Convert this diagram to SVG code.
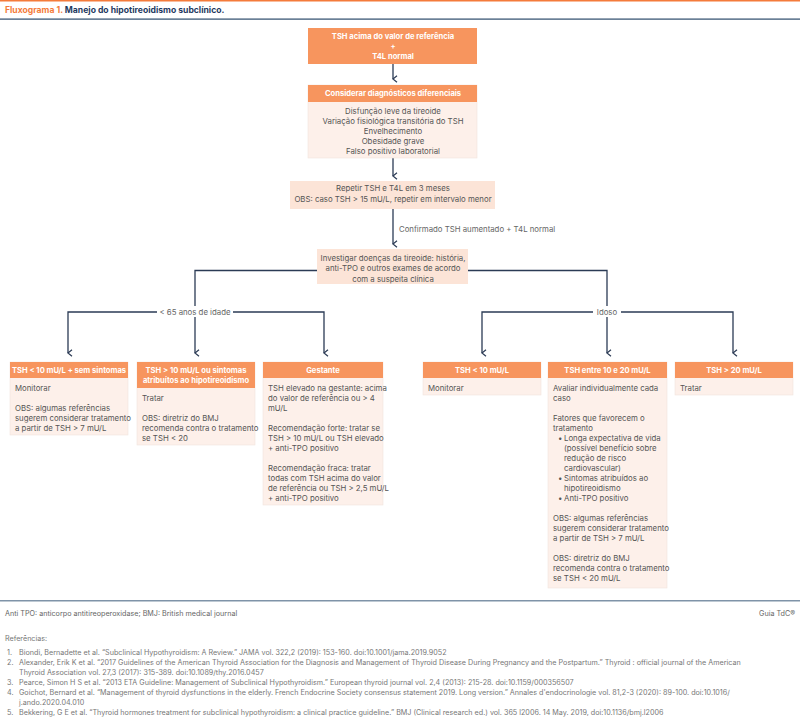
<svg xmlns="http://www.w3.org/2000/svg" width="800" height="723" viewBox="0 0 800 723">
<defs>
<style>
text{font-family:Inter,"Liberation Sans",sans-serif;}
.h{fill:#F7955E;}
.b{fill:#FDF0EA;stroke:#F0E4DE;stroke-width:0.6;}
.p{fill:#FCE4D7;}
.ht{fill:#fff;font-size:7.6px;font-weight:700;text-anchor:middle;}
.t{fill:#555;font-size:7.8px;}
.tc{fill:#555;font-size:7.8px;text-anchor:middle;}
.lbl{fill:#666;font-size:7.8px;}
.c{fill:none;stroke:#2B3B55;stroke-width:1.3;}
.f{fill:#666;font-size:7.2px;}
.r{fill:#777;font-size:7.2px;}
</style>
<marker id="ar" viewBox="0 0 10 10" refX="5" refY="9" markerWidth="8" markerHeight="8" markerUnits="userSpaceOnUse" orient="auto-start-reverse">
<path d="M1,4 L5,9 L9,4" fill="none" stroke="#2B3B55" stroke-width="1.5"/>
</marker>
</defs>
<rect width="800" height="723" fill="#fff"/>
<rect x="0" y="0" width="800" height="1.5" fill="#F47B3B"/>
<text x="5" y="13" font-size="8.6px" font-weight="700"><tspan fill="#F47B3B" font-weight="700">Fluxograma 1.</tspan><tspan fill="#1F3A5F"> Manejo do hipotireoidismo subclínico.</tspan></text>
<rect x="0" y="18.5" width="800" height="1.2" fill="#2C4A6B"/>

<g id="connectors">
<line class="c" x1="393" y1="64" x2="393" y2="79" marker-end="url(#ar)"/>
<line class="c" x1="393" y1="158" x2="393" y2="176" marker-end="url(#ar)"/>
<line class="c" x1="393" y1="209" x2="393" y2="244" marker-end="url(#ar)"/>
<text class="lbl" x="399" y="232">Confirmado TSH aumentado + T4L normal</text>
<polyline class="c" points="317,270.5 195,270.5 195,306"/>
<line class="c" x1="195" y1="317" x2="195" y2="353" marker-end="url(#ar)"/>
<polyline class="c" points="157,312 68,312 68,353" marker-end="url(#ar)"/>
<polyline class="c" points="233,312 324,312 324,353" marker-end="url(#ar)"/>
<text class="lbl" x="195" y="314.5" text-anchor="middle">&lt; 65 anos de idade</text>
<polyline class="c" points="468,270.5 607,270.5 607,306"/>
<line class="c" x1="607" y1="317" x2="607" y2="353" marker-end="url(#ar)"/>
<polyline class="c" points="593,312 482,312 482,353" marker-end="url(#ar)"/>
<polyline class="c" points="621,312 733,312 733,353" marker-end="url(#ar)"/>
<text class="lbl" x="607" y="314.5" text-anchor="middle">Idoso</text>
</g>

<g id="n1">
<rect class="h" x="308" y="28" width="169" height="36"/>
<text class="ht" x="393" y="39">TSH acima do valor de referência</text>
<text class="ht" x="393" y="48.5">+</text>
<text class="ht" x="393" y="58.5">T4L normal</text>
</g>

<g id="n2">
<rect class="b" x="308" y="85" width="169" height="73"/>
<rect class="h" x="308" y="85" width="169" height="17"/>
<text class="ht" x="393" y="96">Considerar diagnósticos diferenciais</text>
<text class="tc" x="393" y="113.5">Disfunção leve da tireoide</text>
<text class="tc" x="393" y="123.5">Variação fisiológica transitória do TSH</text>
<text class="tc" x="393" y="133.5">Envelhecimento</text>
<text class="tc" x="393" y="143.5">Obesidade grave</text>
<text class="tc" x="393" y="153.5">Falso positivo laboratorial</text>
</g>

<g id="n3">
<rect class="p" x="290" y="181" width="205" height="28"/>
<text class="tc" x="393" y="191">Repetir TSH e T4L em 3 meses</text>
<text class="tc" x="393" y="202">OBS: caso TSH &gt; 15 mU/L, repetir em intervalo menor</text>
</g>

<g id="n4">
<rect class="p" x="317" y="249" width="151" height="35"/>
<text class="tc" x="393" y="260.5">Investigar doenças da tireoide: história,</text>
<text class="tc" x="393" y="271">anti-TPO e outros exames de acordo</text>
<text class="tc" x="393" y="281.5">com a suspeita clínica</text>
</g>

<g id="l1">
<rect class="b" x="10" y="362" width="118" height="73"/>
<rect class="h" x="10" y="362" width="118" height="16"/>
<text class="ht" x="69" y="373">TSH &lt; 10 mU/L + sem sintomas</text>
<text class="t" x="15" y="391">Monitorar</text>
<text class="t" x="15" y="411">OBS: algumas referências</text>
<text class="t" x="15" y="421">sugerem considerar tratamento</text>
<text class="t" x="15" y="431">a partir de TSH &gt; 7 mU/L</text>
</g>

<g id="l2">
<rect class="b" x="137" y="362" width="118" height="83"/>
<rect class="h" x="137" y="362" width="118" height="26"/>
<text class="ht" x="196" y="373">TSH &gt; 10 mU/L ou sintomas</text>
<text class="ht" x="196" y="383">atribuítos ao hipotireoidismo</text>
<text class="t" x="142" y="401">Tratar</text>
<text class="t" x="142" y="421">OBS: diretriz do BMJ</text>
<text class="t" x="142" y="431">recomenda contra o tratamento</text>
<text class="t" x="142" y="441">se TSH &lt; 20</text>
</g>

<g id="l3">
<rect class="b" x="263" y="362" width="120" height="143"/>
<rect class="h" x="263" y="362" width="120" height="16"/>
<text class="ht" x="323" y="373">Gestante</text>
<text class="t" x="268" y="391">TSH elevado na gestante: acima</text>
<text class="t" x="268" y="401">do valor de referência ou &gt; 4</text>
<text class="t" x="268" y="411">mU/L</text>
<text class="t" x="268" y="431">Recomendação forte: tratar se</text>
<text class="t" x="268" y="441">TSH &gt; 10 mU/L ou TSH elevado</text>
<text class="t" x="268" y="451">+ anti-TPO positivo</text>
<text class="t" x="268" y="471">Recomendação fraca: tratar</text>
<text class="t" x="268" y="481">todas com TSH acima do valor</text>
<text class="t" x="268" y="491">de referência ou TSH &gt; 2,5 mU/L</text>
<text class="t" x="268" y="501">+ anti-TPO positivo</text>
</g>

<g id="r1">
<rect class="b" x="423" y="362" width="118" height="33"/>
<rect class="h" x="423" y="362" width="118" height="16"/>
<text class="ht" x="482" y="373">TSH &lt; 10 mU/L</text>
<text class="t" x="428" y="391">Monitorar</text>
</g>

<g id="r2">
<rect class="b" x="548" y="362" width="119" height="226"/>
<rect class="h" x="548" y="362" width="119" height="16"/>
<text class="ht" x="607.5" y="373">TSH entre 10 e 20 mU/L</text>
<text class="t" x="553" y="391">Avaliar individualmente cada</text>
<text class="t" x="553" y="401">caso</text>
<text class="t" x="553" y="421">Fatores que favorecem o</text>
<text class="t" x="553" y="431">tratamento</text>
<text class="t" x="558" y="441">•</text><text class="t" x="564" y="441">Longa expectativa de vida</text>
<text class="t" x="564" y="451">(possível benefício sobre</text>
<text class="t" x="564" y="461">redução de risco</text>
<text class="t" x="564" y="471">cardiovascular)</text>
<text class="t" x="558" y="481">•</text><text class="t" x="564" y="481">Sintomas atribuídos ao</text>
<text class="t" x="564" y="491">hipotireoidismo</text>
<text class="t" x="558" y="501">•</text><text class="t" x="564" y="501">Anti-TPO positivo</text>
<text class="t" x="553" y="521">OBS: algumas referências</text>
<text class="t" x="553" y="531">sugerem considerar tratamento</text>
<text class="t" x="553" y="541">a partir de TSH &gt; 7 mU/L</text>
<text class="t" x="553" y="561">OBS: diretriz do BMJ</text>
<text class="t" x="553" y="571">recomenda contra o tratamento</text>
<text class="t" x="553" y="581">se TSH &lt; 20 mU/L</text>
</g>

<g id="r3">
<rect class="b" x="675" y="362" width="118" height="33"/>
<rect class="h" x="675" y="362" width="118" height="16"/>
<text class="ht" x="734" y="373">TSH &gt; 20 mU/L</text>
<text class="t" x="680" y="391">Tratar</text>
</g>

<g id="footer">
<rect x="0" y="600" width="800" height="1.5" fill="#7F93A8"/>
<text class="f" x="5" y="616">Anti TPO: anticorpo antitireoperoxidase; BMJ: British medical journal</text>
<text class="f" x="795" y="616" text-anchor="end" fill="#888">Guia TdC®</text>
<text class="r" x="5" y="641">Referências:</text>
<text class="r" x="7" y="655">1.</text><text class="r" x="19" y="655">Biondi, Bernadette et al. “Subclinical Hypothyroidism: A Review.” JAMA vol. 322,2 (2019): 153-160. doi:10.1001/jama.2019.9052</text>
<text class="r" x="7" y="665">2.</text><text class="r" x="19" y="665">Alexander, Erik K et al. “2017 Guidelines of the American Thyroid Association for the Diagnosis and Management of Thyroid Disease During Pregnancy and the Postpartum.” Thyroid : official journal of the American</text>
<text class="r" x="19" y="674.5">Thyroid Association vol. 27,3 (2017): 315-389. doi:10.1089/thy.2016.0457</text>
<text class="r" x="7" y="685">3.</text><text class="r" x="19" y="685">Pearce, Simon H S et al. “2013 ETA Guideline: Management of Subclinical Hypothyroidism.” European thyroid journal vol. 2,4 (2013): 215-28. doi:10.1159/000356507</text>
<text class="r" x="7" y="695">4.</text><text class="r" x="19" y="695">Goichot, Bernard et al. “Management of thyroid dysfunctions in the elderly. French Endocrine Society consensus statement 2019. Long version.” Annales d'endocrinologie vol. 81,2-3 (2020): 89-100. doi:10.1016/</text>
<text class="r" x="19" y="704.5">j.ando.2020.04.010</text>
<text class="r" x="7" y="715">5.</text><text class="r" x="19" y="715">Bekkering, G E et al. “Thyroid hormones treatment for subclinical hypothyroidism: a clinical practice guideline.” BMJ (Clinical research ed.) vol. 365 l2006. 14 May. 2019, doi:10.1136/bmj.l2006</text>
</g>
</svg>
